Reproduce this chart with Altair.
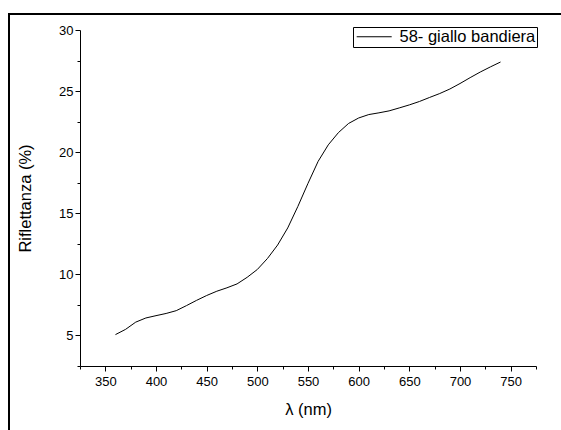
import altair as alt
import pandas as pd

wavelength = [360, 370, 380, 390, 400, 410, 420, 430, 440, 450, 460, 470, 480, 490,
              500, 510, 520, 530, 540, 550, 560, 570, 580, 590, 600, 610, 620, 630,
              640, 650, 660, 670, 680, 690, 700, 710, 720, 730, 740]
reflectance = [5.07, 5.5, 6.09, 6.43, 6.62, 6.8, 7.03, 7.44, 7.87, 8.27, 8.62, 8.9, 9.22, 9.76,
               10.4, 11.3, 12.4, 13.8, 15.56, 17.45, 19.25, 20.6, 21.6, 22.35, 22.8, 23.08, 23.22, 23.38,
               23.62, 23.87, 24.15, 24.48, 24.8, 25.17, 25.62, 26.1, 26.56, 26.98, 27.38]
series_name = "58- giallo bandiera"

x_major = [350, 400, 450, 500, 550, 600, 650, 700, 750]
x_minor = [325, 375, 425, 475, 525, 575, 625, 675, 725, 775]
y_major = [5, 10, 15, 20, 25, 30]
y_minor = [2.5, 7.5, 12.5, 17.5, 22.5, 27.5]

df = pd.DataFrame({"nm": wavelength, "R": reflectance, "serie": [series_name] * len(wavelength)})

FONT = "Liberation Sans"
W, H = 456, 336

xs = alt.Scale(domain=[325, 775], nice=False, zero=False)
ys = alt.Scale(domain=[2.5, 30], nice=False, zero=False)

base = alt.Chart(df)

line = base.mark_line(strokeWidth=1).encode(
    x=alt.X("nm:Q", scale=xs,
            axis=alt.Axis(orient="bottom", values=x_major, title="λ (nm)", tickSize=5,
                          labelPadding=4, titlePadding=13, grid=False, format="d")),
    y=alt.Y("R:Q", scale=ys,
            axis=alt.Axis(orient="left", values=y_major, title="Riflettanza (%)", tickSize=5,
                          labelPadding=2, titlePadding=25, grid=False, format="d")),
    color=alt.Color("serie:N", scale=alt.Scale(range=["black"]),
                    legend=alt.Legend(orient="none", legendX=273, legendY=-3, title=None,
                                      symbolType="M-1.73,0H8.27", symbolSize=49, symbolStrokeWidth=1,
                                      labelFontSize=16.5, labelFont=FONT, labelColor="black",
                                      strokeColor="black", padding=1.5, labelOffset=28.5,
                                      fillColor="white")),
)

minor = base.mark_point(opacity=0).encode(
    x=alt.X("nm:Q", scale=xs,
            axis=alt.Axis(orient="bottom", values=x_minor, labels=False, title=None,
                          tickSize=3, domain=False, grid=False)),
    y=alt.Y("R:Q", scale=ys,
            axis=alt.Axis(orient="left", values=y_minor, labels=False, title=None,
                          tickSize=3, domain=False, grid=False)),
)

frame_df = pd.DataFrame({"k": [0]})
frame_left = alt.Chart(frame_df).mark_rule(color="black", strokeWidth=2).encode(
    x=alt.value(-71), y=alt.value(-16), y2=alt.value(420))
frame_top = alt.Chart(frame_df).mark_rule(color="black", strokeWidth=2).encode(
    x=alt.value(-72), x2=alt.value(500), y=alt.value(-16))

chart = alt.layer(line, minor, frame_left, frame_top).resolve_axis(
    x="independent", y="independent"
).properties(
    width=W, height=H,
    background="white",
    autosize=alt.AutoSizeParams(type="none"),
    padding={"left": 80, "top": 30, "right": 25, "bottom": 64},
).configure_view(stroke=None).configure_axis(
    domainColor="black", tickColor="black", labelColor="black", titleColor="black",
    labelFont=FONT, titleFont=FONT, labelFontSize=13, titleFontSize=16.5,
    titleFontWeight="normal", domainWidth=1, tickWidth=1,
)

chart.save("out.html", embed_options={"renderer": "svg", "actions": False})
